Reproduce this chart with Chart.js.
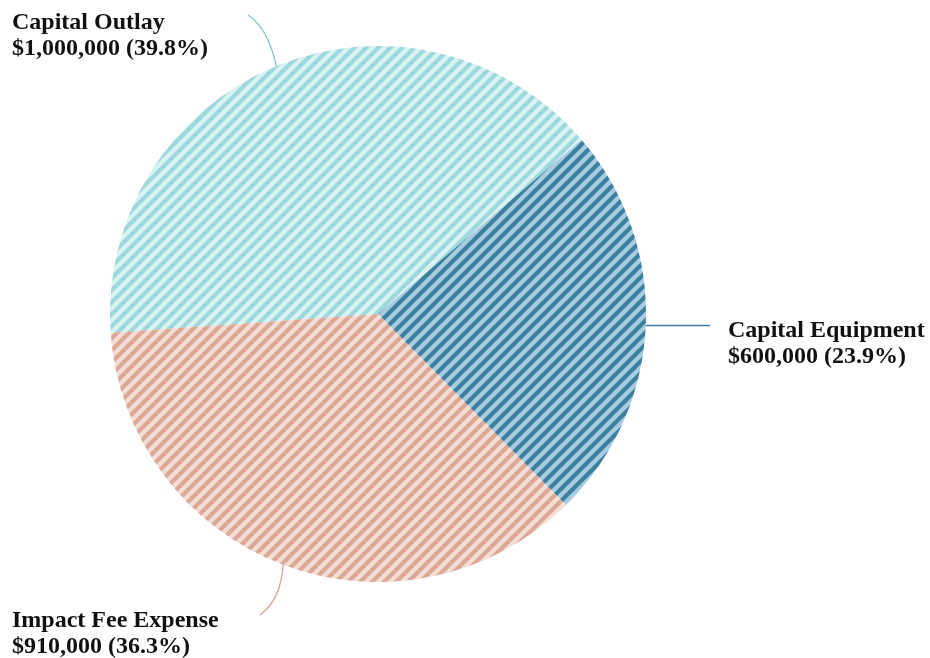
<!DOCTYPE html>
<html>
<head>
<meta charset="utf-8">
<script src="https://cdn.jsdelivr.net/npm/chart.js@4"></script>
<style>
  html, body { margin: 0; padding: 0; background: #fff; }
  #wrap { width: 930px; height: 658px; position: relative; }
</style>
</head>
<body>
<div id="wrap"><canvas id="myChart" width="930" height="658"></canvas></div>
<script>
const categories = ["Capital Outlay", "Capital Equipment", "Impact Fee Expense"];
const amounts = [1000000, 600000, 910000];
const baseColors = ["#9fd8dc", "#3d7f9f", "#dca997"];
const stripeColors = ["#d9f2f3", "#a8cde0", "#f4ddd4"];
const lineColors = ["#7fc6ca", "#3e7f9e", "#d9a594"];

// diagonal "/" stripes as a repeating tile
function stripes(base, stripe) {
  const s = 12;
  const c = document.createElement("canvas");
  c.width = s; c.height = s;
  const g = c.getContext("2d");
  g.fillStyle = base;
  g.fillRect(0, 0, s, s);
  g.strokeStyle = stripe;
  g.lineWidth = 4.3;
  for (const o of [-s, 0, s]) {
    g.beginPath();
    g.moveTo(o - 2, s + 2);
    g.lineTo(o + s + 2, -2);
    g.stroke();
  }
  return g.createPattern(c, "repeat");
}

const total = amounts.reduce((a, b) => a + b, 0);
const fmt = (v) => "$" + v.toLocaleString("en-US");

// label text anchor + leader shape per slice
const labelCfg = [
  { x: 12, y: 29, end: [248, 15], ctrl: [268, 28] },
  { x: 728, y: 337, end: [710, 323], ctrl: null },
  { x: 12, y: 627, end: [260, 615], ctrl: [281, 600] },
];

const calloutPlugin = {
  id: "callouts",
  afterDraw(chart) {
    const ctx = chart.ctx;
    const meta = chart.getDatasetMeta(0);
    meta.data.forEach((arc, i) => {
      const p = arc.getProps(["x", "y", "startAngle", "endAngle", "outerRadius"], true);
      const mid = (p.startAngle + p.endAngle) / 2;
      const sx = p.x + Math.cos(mid) * p.outerRadius;
      const sy = p.y + Math.sin(mid) * p.outerRadius;
      const cfg = labelCfg[i];
      ctx.save();
      ctx.strokeStyle = lineColors[i];
      ctx.lineWidth = 1.3;
      ctx.beginPath();
      ctx.moveTo(sx, sy);
      if (cfg.ctrl) ctx.quadraticCurveTo(cfg.ctrl[0], cfg.ctrl[1], cfg.end[0], cfg.end[1]);
      else ctx.lineTo(cfg.end[0], sy);
      ctx.stroke();

      ctx.fillStyle = "#111";
      ctx.font = "bold 24px 'Liberation Serif', 'Times New Roman', serif";
      ctx.textBaseline = "alphabetic";
      ctx.textAlign = "left";
      const pct = (amounts[i] / total * 100).toFixed(1);
      ctx.fillText(categories[i], cfg.x, cfg.y);
      ctx.fillText(fmt(amounts[i]) + " (" + pct + "%)", cfg.x, cfg.y + 26);
      ctx.restore();
    });
  },
};

new Chart(document.getElementById("myChart"), {
  type: "pie",
  data: {
    labels: categories,
    datasets: [
      {
        data: amounts,
        backgroundColor: baseColors.map((b, i) => stripes(b, stripeColors[i])),
        borderWidth: 0,
      },
    ],
  },
  options: {
    responsive: false,
    animation: false,
    rotation: 266,
    layout: { padding: { top: 46, bottom: 76, left: 110, right: 284 } },
    plugins: {
      legend: { display: false },
      tooltip: { enabled: false },
    },
  },
  plugins: [calloutPlugin],
});
</script>
</body>
</html>
